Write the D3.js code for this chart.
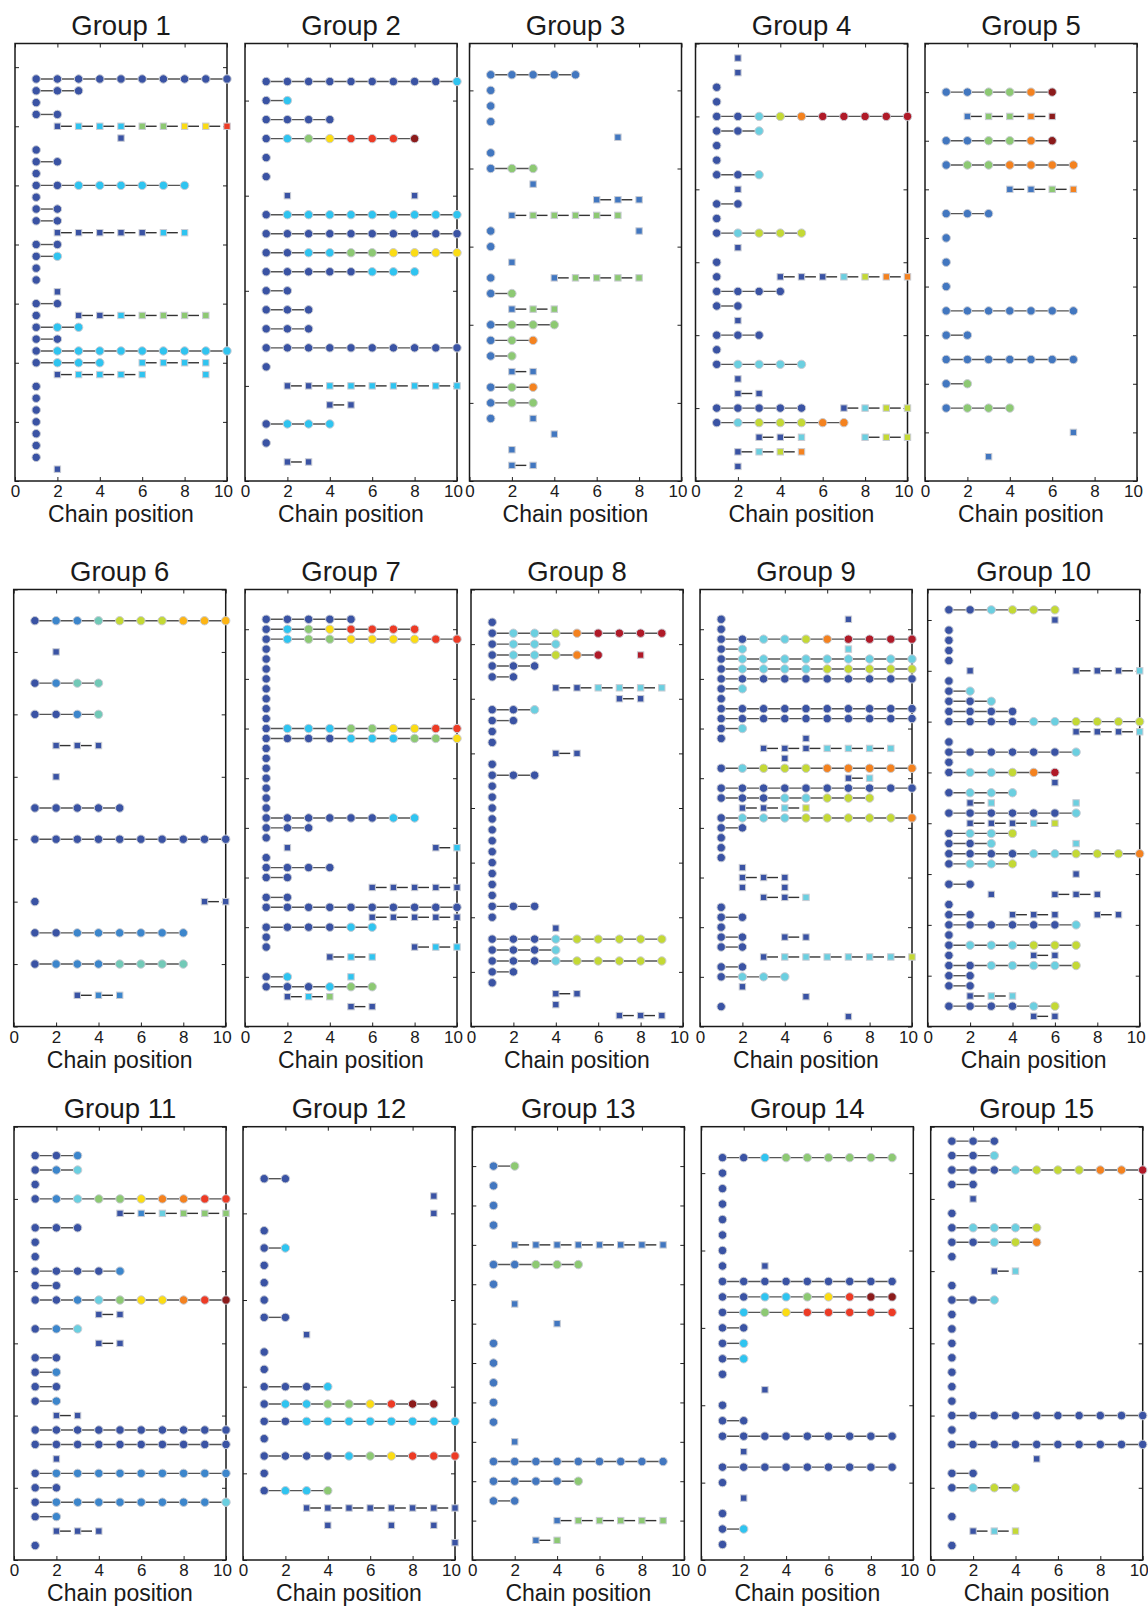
<!DOCTYPE html>
<html><head><meta charset="utf-8">
<script src="https://cdn.jsdelivr.net/npm/d3@7"></script>
<style>
body{margin:0;background:#fff;}
svg{display:block;font-family:"Liberation Sans",Arial,Helvetica,sans-serif;}
</style></head><body>
<svg id="chart" width="1148" height="1608"></svg>
<script>
// ---------------- DATA ----------------
const groupTitles = ["Group 1","Group 2","Group 3","Group 4","Group 5","Group 6","Group 7","Group 8","Group 9","Group 10","Group 11","Group 12","Group 13","Group 14","Group 15"];
const xTickValues = [0,2,4,6,8,10];
const xAxisTitle = "Chain position";
const groupYMax = [37,23,28,30,18,14,44,40,44,43,30,25,22,28,30];
const groupYTickStep = [5,5,5,5,2,2,5,5,5,5,5,5,2,5,5];
const colorCodes  = ["b","m","s","c","t","a","g","l","y","u","o","r","d","D"];
const colorValues = ["#3a53a4","#4277c0","#3c86cc","#2fc4f0","#6bcfe0","#72c9b7","#8dc973","#c4d935","#fbdc14","#fdb515","#f4821f","#ed3b25","#8c1b1b","#b01a28"];

// each row (top to bottom): chains "c<start>:<colors>" (circles) or "s<start>:<colors>" (squares)
const group1Rows = ["c1:bbbbbbbbbb","c1:bbb","c1:b","c1:bb","s2:bcccggyyr","s5:b","c1:b","c1:bb","c1:b","c1:bbcccccc","c1:b","c1:bb","c1:bb","s2:bbbbbcc","c1:bb","c1:bc","c1:b","c1:b","s2:b","c1:bb","c1:b s3:bbcgggg","c1:bcc","c1:bb","c1:bccccccccc","c1:bccc s6:cccc","s2:bcccc s9:c","c1:b","c1:b","c1:b","c1:b","c1:b","c1:b","c1:b","s2:b"];
const group2Rows = ["c1:bbbbbbbbbc","c1:bc","c1:bbbb","c1:bcgyrrrd","c1:b","c1:b","s2:b s8:b","c1:bccccccccc","c1:bbbbbbbbbb","c1:bbccggyyyy","c1:bbbbbccc","c1:bb","c1:bbb","c1:bbb","c1:bbbbbbbbbb","c1:b","s2:bbccccccc","s4:bb","c1:bccc","c1:b","s2:bb"];
const group3Rows = ["c1:mmmmm","c1:m","c1:m","c1:m","s7:m","c1:m","c1:mgg","s3:m","s6:mmm","s2:mggggg","c1:m s8:m","c1:m","s2:m","c1:m s4:mgggg","c1:mg","s2:mgg","c1:mggg","c1:mgo","c1:mg","s2:mm","c1:mgo","c1:mgg","c1:m s3:m","s4:m","s2:m","s2:mm"];
const group4Rows = ["s2:b","s2:b","c1:b","c1:b","c1:bbtloDDDDD","c1:bbt","c1:b","c1:b","c1:bbt","s2:b","c1:bb","c1:b","c1:btlll","s2:b","c1:b","c1:b s4:bbbtloo","c1:bbbb","c1:bb","s2:b","c1:bbb","c1:b","c1:btttt","s2:b","s2:bb","c1:bbbbb s7:btll","c1:btllloo","s3:bbt s8:tll","s2:btlo","s2:b"];
const group5Rows = ["c1:mmggod","s2:mggod","c1:mmggod","c1:mggoooo","s4:mmgo","c1:mmm","c1:m","c1:m","c1:m","c1:mmmmmmm","c1:mm","c1:mmmmmmm","c1:mg","c1:mggg","s7:m","s3:m"];
const group6Rows = ["c1:bssallluuu","s2:b","c1:bsaa","c1:bbsa","s2:bbb","s2:b","c1:bbbbb","c1:bbbbbbbbbb","","c1:b s9:bb","c1:bbssssss","c1:bsssaaaa","s3:bss"];
const group7Rows = ["c1:bbbbb","c1:bcgyrrrr","c1:bcggyyyyrr","c1:b","c1:b","c1:b","c1:b","c1:b","c1:b","c1:b","c1:b","c1:bcccggyyrr","c1:bbbbcccggy","c1:b","c1:b","c1:b","c1:b","c1:b","c1:b","c1:b","c1:bbbbbbcc","c1:bbb","c1:b","s2:b s9:bc","c1:b","c1:bbbb","c1:bb","s6:bbbbb","c1:bb","c1:bbbbbbbbbb","s6:bbbbb","c1:bbbbcc","c1:b","c1:b s8:bcc","s4:bcc","","c1:bc s5:c","c1:bbbcgg","s2:bcg","s5:bb",""];
const group8Rows = ["c1:b","c1:bttloDDDD","c1:bttt","c1:bttloD s8:D","c1:bbb","c1:bb","s4:bbtttt","s7:bb","c1:bbt","c1:bb","c1:b","c1:b","s4:bb","c1:b","c1:bbb","c1:b","c1:b","c1:b","c1:b","c1:b","c1:b","c1:b","c1:b","c1:b","c1:b","c1:b","c1:bbb","c1:b","s4:b","c1:bbbtlllll","c1:bbbt","c1:bbbtlllll","c1:bb","c1:b","s4:bb","s4:b","s7:bbb"];
const group9Rows = ["c1:b s7:b","c1:b","c1:bbttloDDDD","c1:bt s7:t","c1:bttttttttt","c1:bttttlllll","c1:bbbbbbbbbb","c1:bt","c1:b","c1:bbbbbbbbbb","c1:bbbbbbbbbb","c1:bt","c1:b s5:b","s3:bbbtttt","s4:b","c1:btlllooooo","s7:bt","c1:bbbbbbbbbb","c1:bbbttlll","s2:bbtl","c1:btttlllllo","c1:bb","c1:b","c1:b","c1:b","s2:b","s2:bbb","s2:b s4:b","s3:bbt","c1:b","c1:bb","c1:b","c1:bb s4:bb","c1:bb","s3:bttttttl","c1:bb","c1:bttt","s2:b","s5:b","c1:b","s7:b"];
const group10Rows = ["c1:bbtlll","s6:b","c1:b","c1:b","c1:b","c1:b","s2:b s7:bbbt","c1:b","c1:bt","c1:bbt","c1:bbbb","c1:bbbbttllll","s7:bbbt","c1:b","c1:bbbbbbt","c1:b","c1:bttloD","s6:b","c1:bttt","s2:bt s7:t","c1:bbbbbbt","s2:bbbtl","c1:bttl","c1:bbt s7:t","c1:bbbbttlllo","c1:bttl","s7:b","c1:bb","s3:b s6:bbb","c1:b","c1:bb s4:bbb s8:bb","c1:bbbbbbt","c1:b","c1:btttlll","c1:b s5:bb","c1:bbttttl","c1:bb","c1:bb","s2:btt","c1:bbbbtl","s5:bb"];
const group11Rows = ["c1:bbs","c1:bst","c1:b","c1:bstggyoorr","s5:bstggg","c1:bbb","c1:b","c1:b","c1:bbbbs","c1:bb","c1:bbstgyyord","s4:bb","c1:bst","s4:bb","c1:bb","c1:bs","c1:bb","c1:bs","s2:bb","c1:bbbbbbbbbb","c1:bbbbbbbbbb","s2:b","c1:bsssssssss","c1:bb","c1:bsssssssst","c1:bs","s2:bbb","c1:b"];
const group12Rows = ["c1:bb","s9:b","s9:b","c1:b","c1:bc","c1:b","c1:b","c1:b","c1:bb","s3:b","c1:b","c1:b","c1:bbbc","c1:bccggyrdd","c1:bbcccccccc","c1:b","c1:bbbbcgyrrr","c1:b","c1:bccg","s3:bbbbbbbb","s4:b s7:b s9:b","s10:b"];
const group13Rows = ["c1:mg","c1:m","c1:m","c1:m","s2:mmmmmmmm","c1:mmggg","c1:m","s2:m","s4:m","c1:m","c1:m","c1:m","c1:m","c1:m","s2:m","c1:mmmmmmmmm","c1:mmmmg","c1:mm","s4:mggggg","s3:mg"];
const group14Rows = ["c1:bbcgggggg","c1:b","c1:b","c1:b","c1:b","c1:b","c1:b","c1:b s3:b","c1:bbbbbbbbb","c1:bbccgyrdd","c1:bcgyrrrrr","c1:bb","c1:bc","c1:bc","c1:b","s3:b","c1:b","c1:bb","c1:bbbbbbbbb","s2:b","c1:bbbbbbbbb","c1:b","s2:b","c1:b","c1:bc","c1:b"];
const group15Rows = ["c1:bbb","c1:bbt","c1:bbbtlllooD","c1:bb","s2:b","c1:b","c1:btttl","c1:bbtlo","c1:b","s3:bt","c1:b","c1:bbt","c1:b","c1:b","c1:b","c1:b","c1:b","c1:b","c1:b","c1:bbbbbbbbbb","c1:b","c1:bbbbbbbbbb","s5:b","c1:bb","c1:btll","","c1:b","s2:btl","c1:b"];

const allGroupRows = [group1Rows,group2Rows,group3Rows,group4Rows,group5Rows,group6Rows,group7Rows,group8Rows,group9Rows,group10Rows,group11Rows,group12Rows,group13Rows,group14Rows,group15Rows];

// ---------------- LAYOUT ----------------
const panelLeft = [[15,245,469.5,695.5,925],[13.7,245,471,700,927.7],[14,243,472.3,701.3,930.7]];
const rowTop = [43.5,589.5,1126.7];
const rowBottom = [481,1026.5,1560];
const panelW = 212;

const colorScale = d3.scaleOrdinal().domain(colorCodes).range(colorValues);
const svg = d3.select("#chart");

function parseRows(rows){
  const n = rows.length;
  const chains = [];
  rows.forEach((r,i)=>{
    const rowVal = n - i;
    r.split(" ").filter(t=>t.length).forEach(tok=>{
      const m = tok.match(/^([cs])(\d+):(\w+)$/);
      const shape = m[1], start = +m[2];
      const pts = m[3].split("").map((c,k)=>({x:start+k,y:rowVal,color:c}));
      chains.push({shape,pts});
    });
  });
  return chains;
}

allGroupRows.forEach((rows,gi)=>{
  const pr = Math.floor(gi/5), pc = gi%5;
  const left = panelLeft[pr][pc], top = rowTop[pr], bottom = rowBottom[pr];
  const h = bottom - top;
  const g = svg.append("g").attr("transform",`translate(${left},${top})`);
  const x = d3.scaleLinear().domain([0,10]).range([0,panelW]);
  const y = d3.scaleLinear().domain([0,groupYMax[gi]]).range([h,0]);
  const yTicks = d3.range(0,groupYMax[gi]+0.001,groupYTickStep[gi]);

  // axes
  const axB = g.append("g").attr("transform",`translate(0,${h})`)
    .call(d3.axisBottom(x).tickValues(xTickValues).tickSize(-4).tickPadding(4).tickFormat(d3.format("d")));
  axB.selectAll("text").attr("font-size",17).attr("fill","#1a1a1a")
    .attr("dx",d=>d===10?-4:0);
  axB.attr("font-family",null);
  const axT = g.append("g").call(d3.axisTop(x).tickValues(xTickValues).tickSize(-4).tickFormat(""));
  const axL = g.append("g").call(d3.axisLeft(y).tickValues(yTicks).tickSize(-4).tickFormat(""));
  const axR = g.append("g").attr("transform",`translate(${panelW},0)`).call(d3.axisRight(y).tickValues(yTicks).tickSize(-4).tickFormat(""));
  [axB,axT,axL,axR].forEach(a=>{ a.select(".domain").remove(); a.selectAll(".tick line").attr("stroke","#222").attr("stroke-width",1); });

  g.append("rect").attr("x",0).attr("y",0).attr("width",panelW).attr("height",h)
    .attr("fill","none").attr("stroke","#1a1a1a").attr("stroke-width",1.5);

  // title & x label
  g.append("text").attr("x",panelW/2).attr("y",-8.5).attr("text-anchor","middle")
    .attr("font-size",27.5).attr("fill","#1a1a1a").text(groupTitles[gi]);
  g.append("text").attr("x",panelW/2).attr("y",h+41).attr("text-anchor","middle")
    .attr("font-size",23).attr("fill","#1a1a1a").text(xAxisTitle);

  const chains = parseRows(rows);
  const lines = g.append("g");
  const marks = g.append("g");
  chains.forEach(ch=>{
    const p = ch.pts;
    if(ch.shape==="c"){
      if(p.length>1){
        lines.append("line").attr("x1",x(p[0].x)).attr("x2",x(p[p.length-1].x))
          .attr("y1",y(p[0].y)).attr("y2",y(p[0].y))
          .attr("stroke","#555").attr("stroke-width",1.4);
      }
      marks.selectAll(null).data(p).enter().append("circle")
        .attr("cx",d=>x(d.x)).attr("cy",d=>y(d.y)).attr("r",4.2)
        .attr("fill",d=>colorScale(d.color)).attr("stroke","#c9ccd4").attr("stroke-width",1);
    } else {
      for(let k=0;k<p.length-1;k++){
        const x0 = x(p[k].x), x1 = x(p[k+1].x);
        lines.append("line").attr("x1",x0).attr("x2",x0+0.68*(x1-x0))
          .attr("y1",y(p[k].y)).attr("y2",y(p[k].y))
          .attr("stroke","#333").attr("stroke-width",1.4);
      }
      const s = 6.4;
      marks.selectAll(null).data(p).enter().append("rect")
        .attr("x",d=>x(d.x)-s/2).attr("y",d=>y(d.y)-s/2).attr("width",s).attr("height",s)
        .attr("fill",d=>colorScale(d.color)).attr("stroke","#c9ccd4").attr("stroke-width",1);
    }
  });
});
</script>
</body></html>
